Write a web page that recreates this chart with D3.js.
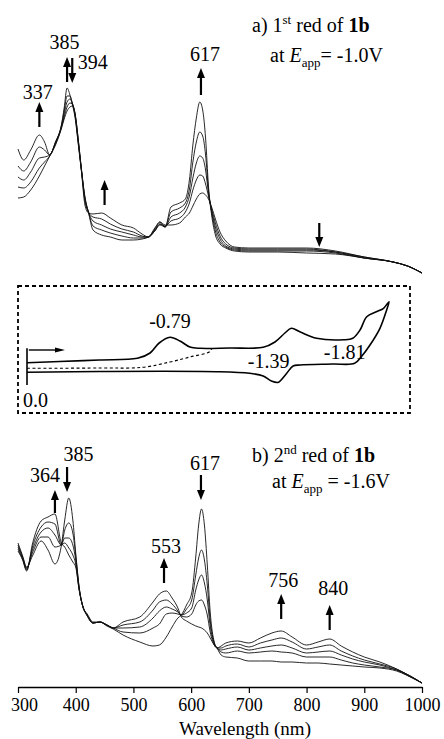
<!DOCTYPE html>
<html>
<head>
<meta charset="utf-8">
<script src="https://cdn.jsdelivr.net/npm/d3@7"></script>
<style>
  html, body { margin: 0; padding: 0; background: #fff; }
  svg { display: block; }
  svg text { font-family: "Liberation Serif", "Times New Roman", serif; }
</style>
</head>
<body>
<svg id="chart" width="444" height="739" font-family="Liberation Serif"></svg>
<script>
// ---- a) first reduction: five spectra recorded while stepping at -1.0 V ----
const wavelengthsA = [300,310,322,337,346,355,365,375,380,385,390,394,399,404,410,416,422,430,445,460,480,500,515,526,537,546,555,565,580,590,597,603,609,615,620,625,630,636,642,650,660,675,700,750,800,850,900,950,975,1000];
const spectrumA0 = [.82,.83,.90,1.04,1.14,1.24,1.35,1.51,1.61,1.69,1.73,1.74,1.66,1.43,1.10,.83,.68,.50,.45,.43,.40,.40,.41,.43,.51,.58,.55,.55,.57,.63,.67,.74,.81,.86,.87,.85,.81,.72,.61,.48,.39,.33,.32,.32,.32,.29,.23,.18,.14,.07];
const spectrumA1 = [.93,.92,.98,1.12,1.18,1.24,1.36,1.52,1.63,1.73,1.77,1.76,1.66,1.42,1.10,.82,.68,.54,.50,.47,.44,.42,.42,.43,.49,.56,.54,.59,.62,.68,.77,.90,1.00,1.05,1.04,.96,.84,.70,.57,.44,.36,.32,.31,.31,.31,.28,.23,.18,.14,.07];
const spectrumA2 = [1.03,1.00,1.08,1.22,1.23,1.25,1.37,1.53,1.66,1.78,1.81,1.77,1.65,1.41,1.10,.81,.68,.59,.55,.51,.48,.45,.43,.43,.49,.55,.53,.63,.67,.73,.84,1.02,1.17,1.24,1.22,1.10,.87,.68,.53,.41,.34,.31,.30,.30,.30,.28,.22,.18,.14,.07];
const spectrumA3 = [1.14,1.09,1.18,1.33,1.30,1.25,1.38,1.54,1.69,1.84,1.84,1.77,1.64,1.39,1.09,.79,.68,.63,.61,.56,.51,.48,.44,.43,.50,.56,.53,.68,.72,.77,.91,1.18,1.38,1.48,1.44,1.25,.90,.66,.49,.38,.33,.30,.29,.29,.29,.27,.22,.18,.14,.07];
const spectrumA4 = [1.31,1.20,1.30,1.45,1.38,1.25,1.38,1.54,1.72,1.92,1.85,1.76,1.62,1.38,1.08,.75,.67,.66,.67,.62,.55,.52,.46,.43,.52,.58,.53,.73,.77,.81,1.00,1.35,1.62,1.78,1.70,1.42,.94,.63,.45,.36,.32,.29,.28,.28,.27,.26,.22,.18,.14,.07];

// ---- b) second reduction at -1.6 V ----
const wavelengthsB = [300,308,315,325,340,352,364,375,381,388,395,400,406,412,420,430,442,454,465,482,511,534,545,557,567,577,583,592,601,608,613,618,623,628,633,640,645,652,660,680,700,720,740,756,775,800,820,840,860,880,900,927,956,973,1000];
const spectrumB0 = [1.47,1.34,1.23,1.34,1.49,1.40,1.26,1.44,1.70,1.92,1.70,1.37,1.03,.84,.76,.68,.68,.64,.61,.55,.48,.44,.45,.53,.63,.72,.75,.85,.97,1.33,1.65,1.81,1.65,1.25,.78,.48,.42,.35,.33,.32,.29,.29,.29,.28,.28,.27,.27,.26,.25,.24,.23,.22,.19,.15,.07];
const spectrumB1 = [1.45,1.33,1.22,1.37,1.53,1.53,1.43,1.45,1.60,1.67,1.57,1.34,1.02,.84,.75,.67,.68,.65,.62,.58,.57,.62,.66,.76,.77,.76,.75,.81,.90,1.15,1.32,1.40,1.30,1.05,.70,.47,.42,.38,.37,.39,.37,.38,.39,.38,.37,.33,.33,.33,.30,.27,.25,.23,.20,.15,.07];
const spectrumB2 = [1.43,1.32,1.21,1.40,1.58,1.62,1.55,1.45,1.52,1.52,1.45,1.30,1.01,.84,.75,.67,.68,.65,.62,.62,.63,.72,.79,.83,.81,.78,.75,.77,.82,1.00,1.10,1.15,1.07,.90,.64,.46,.42,.40,.41,.43,.40,.42,.44,.45,.42,.37,.38,.39,.35,.31,.28,.25,.20,.16,.07];
const spectrumB3 = [1.41,1.31,1.20,1.43,1.63,1.68,1.66,1.45,1.47,1.42,1.35,1.26,1.00,.84,.74,.67,.68,.65,.62,.65,.68,.80,.88,.90,.86,.79,.74,.73,.76,.85,.89,.90,.85,.75,.58,.45,.42,.42,.44,.46,.43,.47,.50,.52,.48,.41,.43,.45,.39,.34,.30,.26,.21,.16,.07];
const spectrumB4 = [1.39,1.30,1.19,1.46,1.69,1.73,1.76,1.47,1.43,1.35,1.28,1.23,1.00,.85,.74,.67,.68,.65,.62,.68,.73,.88,.96,.99,.92,.82,.73,.69,.66,.64,.63,.62,.60,.57,.52,.45,.42,.44,.47,.49,.47,.52,.57,.59,.53,.45,.48,.51,.44,.38,.33,.28,.21,.16,.07];

// Peak markers: wavelength, arrow start and end (absorbance)
const peakArrowsA = [
  { nm: 337, from: 1.53, to: 1.78, label: "337" },
  { nm: 385, from: 1.98, to: 2.23, label: "385" },
  { nm: 394, from: 2.22, to: 1.97, label: "394" },
  { nm: 617, from: 1.85, to: 2.12, label: "617" },
  { nm: 450, from: 0.75, to: 1.00 },
  { nm: 822, from: 0.57, to: 0.33 }
];
const peakArrowsB = [
  { nm: 364, from: 1.77, to: 2.00, label: "364" },
  { nm: 385, from: 2.23, to: 1.98, label: "385" },
  { nm: 617, from: 2.15, to: 1.90, label: "617" },
  { nm: 553, from: 1.07, to: 1.32, label: "553" },
  { nm: 756, from: 0.71, to: 0.96, label: "756" },
  { nm: 840, from: 0.60, to: 0.85, label: "840" }
];

// ---- cyclic voltammogram (potential in V, current in arbitrary units) ----
const cvForward = [[0,0.93],[-0.18,1.05],[-0.40,1.20],[-0.61,1.37],[-0.68,1.90],[-0.73,2.90],[-0.79,3.47],[-0.845,3.10],[-0.90,2.50],[-0.956,2.37],[-1.12,2.40],[-1.305,2.47],[-1.37,3.00],[-1.425,3.90],[-1.46,4.37],[-1.51,4.00],[-1.60,3.37],[-1.75,3.22],[-1.80,3.37],[-1.84,4.20],[-1.877,5.53],[-1.93,6.03],[-1.97,6.37],[-2.00,7.03]];
const cvReverse = [[-2.00,7.03],[-1.987,6.20],[-1.95,4.37],[-1.895,2.70],[-1.85,1.60],[-1.81,0.87],[-1.69,0.80],[-1.51,0.70],[-1.47,0.60],[-1.435,-0.13],[-1.40,-0.87],[-1.39,-1.03],[-1.35,-0.90],[-1.305,-0.40],[-1.23,-0.13],[-1.05,0.03],[-0.40,0.05],[0,-0.03]];
const cvFirstScan = [[0,0.37],[-0.40,0.40],[-0.64,0.47],[-0.79,1.00],[-0.90,1.50],[-1.01,2.03],[-1.02,2.35]];
const cvPeaks = [
  { E: -0.79, i: 3.47, text: "-0.79" },
  { E: -1.39, i: -1.03, text: "-1.39" },
  { E: -1.81, i: 3.37, text: "-1.81" }
];

const xTicks = [300, 400, 500, 600, 700, 800, 900, 1000];

// ---------------------------------------------------------------
const FONT = "Liberation Serif";
const svg = d3.select("#chart");
const ink = "#111";

const x = d3.scaleLinear().domain([300, 1000]).range([18, 422]);
const yA = d3.scaleLinear().domain([0, 2]).range([280, 80]);
const yB = d3.scaleLinear().domain([0, 2]).range([690, 490]);

function drawSpectra(wl, sets, y) {
  const line = d3.line()
    .x((d, i) => x(wl[i]))
    .y(d => y(d))
    .curve(d3.curveMonotoneX);
  svg.append("g").selectAll("path").data(sets).join("path")
    .attr("d", d => line(d))
    .attr("fill", "none")
    .attr("stroke", ink)
    .attr("stroke-width", 0.9)
    .attr("stroke-linejoin", "round");
}
drawSpectra(wavelengthsA, [spectrumA0, spectrumA1, spectrumA2, spectrumA3, spectrumA4], yA);
drawSpectra(wavelengthsB, [spectrumB0, spectrumB1, spectrumB2, spectrumB3, spectrumB4], yB);

function arrow(g, px, yTail, yTip, opts = {}) {
  const dir = Math.sign(yTip - yTail);
  const headLen = opts.headLen || 10, headW = opts.headW || 4, w = opts.width || 2.2;
  g.append("line")
    .attr("x1", px).attr("x2", px)
    .attr("y1", yTail).attr("y2", yTip - dir * headLen * 0.7)
    .attr("stroke", "#000").attr("stroke-width", w);
  g.append("path")
    .attr("d", `M${px},${yTip} L${px - headW},${yTip - dir * headLen} L${px + headW},${yTip - dir * headLen} Z`)
    .attr("fill", "#000");
}

function label(g, px, py, str, anchor = "middle", size = 20) {
  return g.append("text")
    .attr("x", px).attr("y", py)
    .attr("text-anchor", anchor)
    .attr("font-family", FONT)
    .attr("font-size", size)
    .attr("fill", "#000")
    .text(str);
}

// label offsets relative to the upper end of each arrow
const labelOffsetA = { "337": [-1.5, -3], "385": [-2.5, -8], "394": [20.5, 11], "617": [4, -7] };
const labelOffsetB = { "364": [-10, -8], "385": [11.5, -6], "617": [4, -5.5], "553": [2, -5], "756": [2, -7], "840": [3.5, -10] };

function drawPeaks(arrows, y, offsets) {
  const g = svg.append("g");
  arrows.forEach(a => {
    const px = x(a.nm);
    arrow(g, px, y(a.from), y(a.to));
    if (a.label) {
      const top = Math.min(y(a.from), y(a.to));
      const off = offsets[a.label];
      label(g, px + off[0], top + off[1], a.label);
    }
  });
}
drawPeaks(peakArrowsA, yA, labelOffsetA);
drawPeaks(peakArrowsB, yB, labelOffsetB);

// panel titles
function title(x0, y0, letter, order, sup, x1, y1, potential, eqSpace) {
  const t = label(svg, x0, y0, "", "start");
  t.append("tspan").text(letter + ") " + order);
  t.append("tspan").attr("font-size", 13).attr("dy", -8).text(sup);
  t.append("tspan").attr("dy", 8).text(" red of ");
  t.append("tspan").attr("font-weight", "bold").text("1b");
  const s = label(svg, x1, y1, "", "start");
  s.append("tspan").text("at ");
  s.append("tspan").attr("font-style", "italic").text("E");
  s.append("tspan").attr("font-size", 13).attr("dy", 5).text("app");
  s.append("tspan").attr("dy", -5).text((eqSpace ? " " : "") + "= " + potential);
}
title(252, 32, "a", "1", "st", 270, 62, "-1.0V", false);
title(252, 462, "b", "2", "nd", 272, 488, "-1.6V", true);

// ---- inset: cyclic voltammogram in a dashed frame ----
svg.append("rect")
  .attr("x", 18).attr("y", 286).attr("width", 392).attr("height", 127)
  .attr("fill", "none").attr("stroke", "#000").attr("stroke-width", 1.8)
  .attr("stroke-dasharray", "4,3");

const xE = d3.scaleLinear().domain([0, -2]).range([27, 389]);
const yI = d3.scaleLinear().domain([0, 1]).range([372, 362]);
const cvLine = d3.line().x(d => xE(d[0])).y(d => yI(d[1])).curve(d3.curveCatmullRom.alpha(0.5));
const cv = svg.append("g");
cv.append("path").attr("d", cvLine(cvForward.concat(cvReverse.slice(1))))
  .attr("fill", "none").attr("stroke", "#000").attr("stroke-width", 1.6).attr("stroke-linejoin", "round");
cv.append("path").attr("d", cvLine(cvFirstScan))
  .attr("fill", "none").attr("stroke", "#000").attr("stroke-width", 1.1).attr("stroke-dasharray", "3,2.5");
// start potential marker
cv.append("line").attr("x1", xE(0)).attr("x2", xE(0)).attr("y1", yI(-1.3)).attr("y2", yI(2.37))
  .attr("stroke", "#000").attr("stroke-width", 1.6);
// scan direction
{
  const ya = yI(2.2), xa0 = xE(-0.01), xa1 = xE(-0.21);
  cv.append("line").attr("x1", xa0).attr("x2", xa1 - 7).attr("y1", ya).attr("y2", ya)
    .attr("stroke", "#000").attr("stroke-width", 1.4);
  cv.append("path").attr("d", `M${xa1},${ya} L${xa1 - 10},${ya - 2.6} L${xa1 - 10},${ya + 2.6} Z`).attr("fill", "#000");
}
const cvLabelOffset = { "-0.79": [0, -9], "-1.39": [-10, -14], "-1.81": [-10, 21] };
cvPeaks.forEach(p => {
  const o = cvLabelOffset[p.text];
  label(cv, xE(p.E) + o[0], yI(p.i) + o[1], p.text);
});
label(cv, 23, 406.5, "0.0", "start");

// ---- wavelength axis ----
const axis = svg.append("g").attr("transform", "translate(0,687)")
  .call(d3.axisBottom(x).tickValues(xTicks).tickSize(6).tickSizeOuter(0).tickPadding(5).tickFormat(d3.format("d")));
axis.attr("font-family", FONT).attr("font-size", 18);
axis.select(".domain").attr("stroke", "#000").attr("stroke-width", 1.3);
axis.selectAll(".tick line").attr("stroke", "#000").attr("stroke-width", 1.2);
axis.selectAll(".tick text").attr("fill", "#000").attr("font-family", FONT).attr("font-size", 18);
axis.selectAll(".tick text").filter(d => d === 300).attr("dx", 6);

label(svg, 245, 734.5, "Wavelength (nm)", "middle", 19);
</script>
</body>
</html>
